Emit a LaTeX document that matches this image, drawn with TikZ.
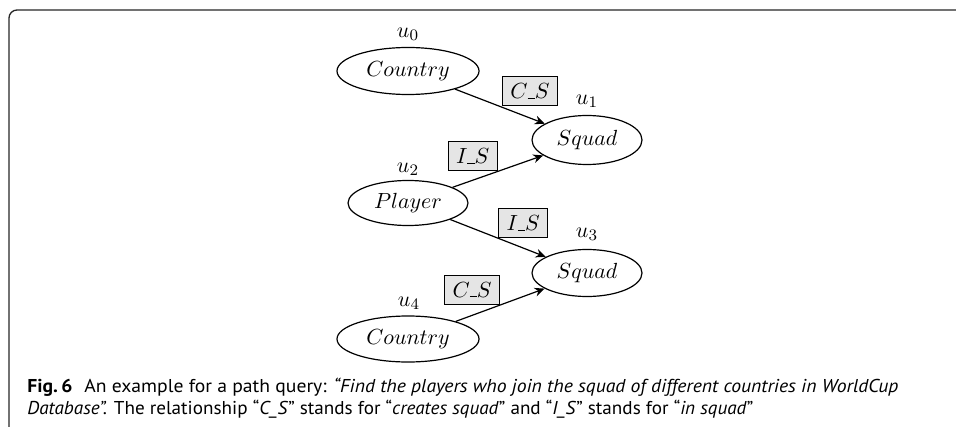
\documentclass[tikz,border=0pt]{standalone}
\usepackage{fontspec}
\usepackage{graphicx}
\usetikzlibrary{shapes.geometric,arrows.meta}
\newfontfamily\capfont{PT Sans}
% short low bar joining the two letters of a relation name
\newcommand\joinbar{\mbox{\rule{3.6pt}{0.45pt}}}
% set a caption line condensed to a given width, keeping its height
\newcommand\fitline[2]{\resizebox{#1}{\height}{#2}}
\begin{document}
\begin{tikzpicture}[x=0.5pt,y=-0.5pt,
  entity/.style={draw,ellipse,line width=0.6pt,inner sep=0pt,
    font=\fontsize{11.3}{13}\selectfont},
  vlabel/.style={inner sep=0pt,font=\fontsize{11.3}{13}\selectfont},
  rel/.style={draw,fill=black!10,line width=0.6pt,inner sep=0pt,
    minimum height=14.5pt,font=\fontsize{11.3}{13}\selectfont},
  link/.style={line width=0.6pt,-{Stealth[length=5pt,width=4.4pt]}},
  capline/.style={anchor=base west,inner sep=0pt,
    font=\capfont\fontsize{9.3}{11}\selectfont}]
  \useasboundingbox (0,0) rectangle (956,427);

  % panel frame: only the top and left edges are inside the page
  \draw[line width=0.65pt,black!85,rounded corners=4pt] (9,440) -- (9,10) -- (970,10);

  % query vertices
  \node[entity,minimum width=71pt,minimum height=23.5pt] (c0) at (408,71)  {$Country$};
  \node[entity,minimum width=55pt,minimum height=24.5pt] (s1) at (587,140) {$Squad$};
  \node[entity,minimum width=60pt,minimum height=22.5pt] (p2) at (408,203) {$Player$};
  \node[entity,minimum width=55pt,minimum height=23.5pt] (s3) at (587,273) {$Squad$};
  \node[entity,minimum width=71pt,minimum height=23pt]   (c4) at (408,339) {$Country$};

  % vertex identifiers
  \node[vlabel] (l0) at (408,34)  {$u_0$};
  \node[vlabel] (l1) at (587,101) {$u_1$};
  \node[vlabel] (l2) at (408,169) {$u_2$};
  \node[vlabel] (l3) at (587,234) {$u_3$};
  \node[vlabel] (l4) at (409,303) {$u_4$};

  % labelled edges
  \draw[link] (c0) -- node[rel,minimum width=27.5pt,anchor=south west,xshift=1pt] (r01) {$C\joinbar S$} (s1);
  \draw[link] (p2) -- node[rel,minimum width=24.5pt,anchor=south east] (r21) {$I\joinbar S$} (s1);
  \draw[link] (p2) -- node[rel,minimum width=24.5pt,anchor=south west] (r23) {$I\joinbar S$} (s3);
  \draw[link] (c4) -- node[rel,minimum width=27.5pt,anchor=south east] (r43) {$C\joinbar S$} (s3);

  % caption
  \node[capline] (cap1) at (27,392) {\fitline{435.5pt}{\textbf{Fig.\,6}\hspace{0.6em}An example for a path query: \textit{“Find the players who join the squad of different countries in WorldCup}}};
  \node[capline] (cap2) at (27,414) {\fitline{363pt}{\textit{Database”.} The relationship “\textit{C\_S}” stands for “\textit{creates squad}” and “\textit{I\_S}” stands for “\textit{in squad}”}};
\end{tikzpicture}
\end{document}
